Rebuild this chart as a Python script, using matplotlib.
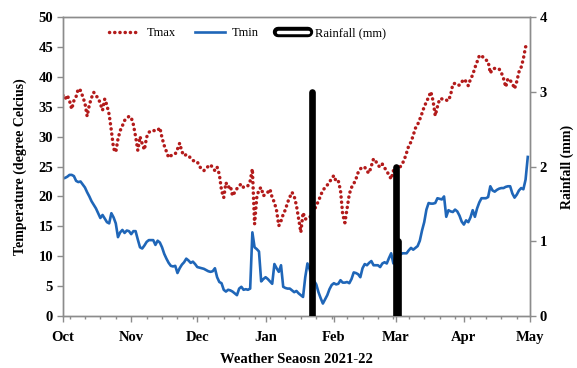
import numpy as np
import pandas as pd
import matplotlib
matplotlib.use("Agg")
import matplotlib.pyplot as plt
import matplotlib.dates as mdates
import matplotlib.patheffects as pe
from matplotlib.lines import Line2D

# daily values, 1 Oct 2021 - 30 Apr 2022
tmax = [36.9, 36.3, 36.9, 36.0, 34.6, 36.0, 36.7, 38.0, 37.7, 36.7,
        35.6, 33.4, 35.3, 36.5, 37.4, 36.8, 36.5, 35.5, 34.4, 36.3,
        35.2, 33.7, 31.0, 28.0, 27.4, 29.6, 31.0, 31.8, 32.7, 33.0,
        33.4, 33.2, 32.0, 30.0, 27.7, 30.0, 28.8, 27.8, 29.9, 30.7,
        31.0, 31.0, 31.0, 31.0, 31.5, 29.8, 28.5, 27.5, 26.5, 26.8,
        27.0, 27.1, 27.9, 28.9, 27.5, 26.8, 27.0, 26.8, 26.4, 26.0,
        25.9, 25.8, 25.0, 24.6, 24.3, 24.8, 25.0, 25.3, 24.8, 24.3,
        24.9, 23.7, 21.0, 19.8, 22.3, 21.5, 21.8, 20.1, 20.7, 21.3,
        21.8, 22.1, 21.5, 21.6, 21.8, 22.6, 24.6, 15.4, 19.8, 21.2,
        21.5, 20.1, 20.4, 20.7, 21.2, 19.8, 19.0, 17.6, 15.1, 15.9,
        17.0, 17.8, 19.0, 19.9, 20.7, 20.0, 18.5, 16.2, 14.0, 17.3,
        16.2, 16.4, 16.5, 17.0, 17.6, 18.5, 19.2, 20.2, 21.0, 21.5,
        21.9, 22.4, 23.0, 23.5, 22.5, 22.6, 21.0, 17.0, 15.6, 18.0,
        20.4, 21.5, 22.1, 22.9, 24.0, 24.6, 24.9, 24.9, 24.2, 23.9,
        25.1, 26.3, 25.9, 25.2, 24.9, 25.4, 24.8, 24.2, 23.6, 22.9,
        24.3, 24.0, 24.5, 24.9, 25.4, 26.2, 27.3, 28.5, 29.1, 30.2,
        31.4, 32.0, 32.9, 33.9, 35.0, 35.8, 36.6, 37.5, 36.0, 33.5,
        35.0, 36.3, 36.3, 36.1, 36.1, 36.0, 37.0, 38.8, 38.9, 38.6,
        38.6, 39.1, 39.6, 39.2, 38.5, 39.6, 40.3, 41.5, 42.5, 43.5,
        43.6, 43.1, 42.8, 42.6, 40.6, 41.3, 41.4, 41.3, 41.3, 40.7,
        39.7, 38.3, 39.7, 39.4, 38.9, 38.0, 39.2, 40.8, 41.6, 43.0,
        45.0, 45.2]

tmin = [23.0, 23.1, 23.3, 23.6, 23.6, 23.4, 22.6, 22.4, 22.5, 22.0,
        21.5, 20.7, 20.0, 19.2, 18.6, 18.0, 17.2, 16.4, 16.9, 16.3,
        15.7, 15.5, 17.2, 16.5, 15.5, 13.2, 14.0, 14.4, 13.9, 14.3,
        14.2, 13.7, 14.2, 14.2, 12.8, 11.5, 11.3, 11.8, 12.4, 12.7,
        12.7, 12.7, 11.9, 12.6, 12.3, 11.5, 10.4, 9.6, 8.9, 8.4,
        8.3, 8.4, 7.2, 8.0, 8.6, 9.0, 9.6, 9.3, 8.9, 9.1,
        8.7, 8.2, 8.1, 8.0, 7.9, 7.7, 7.5, 7.4, 7.5, 8.0,
        6.5, 5.7, 5.5, 4.4, 4.1, 4.4, 4.3, 4.1, 3.8, 3.5,
        4.6, 4.9, 4.4, 4.5, 4.4, 4.6, 14.0, 11.5, 11.2, 10.8,
        5.8, 6.2, 6.5, 6.2, 5.8, 5.4, 8.7, 8.0, 7.4, 8.5,
        4.9, 4.7, 4.6, 4.6, 4.3, 4.0, 4.2, 3.8, 3.5, 3.2,
        6.5, 8.8, 7.8, 6.4, 5.9, 5.3, 4.0, 3.0, 2.1, 2.8,
        3.5, 4.5, 5.2, 5.5, 5.3, 5.4, 6.0, 5.6, 5.6, 5.7,
        5.5, 6.2, 7.3, 7.2, 7.0, 6.5, 8.0, 8.7, 8.5, 8.9,
        9.2, 8.5, 8.5, 8.5, 8.2, 8.8, 9.0, 8.8, 9.7, 10.5,
        8.8, 9.3, 9.8, 10.2, 10.5, 10.5, 10.5, 11.0, 11.4, 11.1,
        11.4, 11.7, 12.6, 14.3, 15.7, 17.8, 18.9, 18.8, 18.8, 18.9,
        19.7, 19.6, 19.5, 20.0, 16.6, 17.7, 17.5, 17.4, 17.8, 17.5,
        16.8, 15.8, 15.3, 16.0, 15.7, 16.5, 17.7, 16.6, 18.0, 19.0,
        19.7, 19.7, 19.7, 19.9, 21.7, 21.0, 20.8, 21.1, 21.3, 21.4,
        21.4, 21.6, 21.7, 21.7, 20.5, 19.8, 20.3, 21.0, 21.4, 21.2,
        22.8, 26.6]

rain_dates = ["2022-01-22", "2022-03-01", "2022-03-02"]
rain_mm = [3.0, 2.0, 1.0]

dates = pd.date_range("2021-10-01", periods=len(tmax), freq="D")
rain_dates = pd.to_datetime(rain_dates)

plt.rcParams['font.family'] = ['Liberation Serif', 'DejaVu Serif']

red = '#B31B1B'
blue = '#1F66B8'
grey = '#8C8C8C'

fig = plt.figure(figsize=(5.77, 3.68), dpi=100)
ax = fig.add_axes([0.109, 0.141, 0.8095, 0.813])
ax2 = ax.twinx()

ax.plot(dates, tmax, color=red, lw=2.5, linestyle=(0, (0.05, 1.45)),
        dash_capstyle='round', label='Tmax')
ax.plot(dates, tmin, color=blue, lw=1.9, label='Tmin')

ax2.vlines(rain_dates, 0, rain_mm, colors='black', lw=4.8, capstyle='round',
           zorder=3)

ax.set_xlim(pd.Timestamp("2021-10-01"), pd.Timestamp("2022-05-01"))
ax.set_ylim(0, 50)
ax.set_yticks(np.arange(0, 51, 5))
ax2.set_ylim(0, 4)
ax2.set_yticks([0, 1, 2, 3, 4])

ax.xaxis.set_major_locator(mdates.MonthLocator())
ax.xaxis.set_major_formatter(mdates.DateFormatter('%b'))
ax.xaxis.set_minor_locator(mdates.WeekdayLocator(byweekday=mdates.MO))

for a in (ax, ax2):
    for s in a.spines.values():
        s.set_color(grey)
        s.set_linewidth(1.0)
    a.tick_params(which='both', direction='out', color=grey, width=1.0)
    a.tick_params(which='major', length=4, labelsize=10.5, pad=3)
    a.tick_params(which='minor', length=2.5)
    for lab in a.get_yticklabels():
        lab.set_fontweight('bold')
ax.tick_params(axis='x', which='major', pad=7)
for lab in ax.get_xticklabels():
    lab.set_fontweight('bold')

ax.set_ylabel('Temperature (degree Celcius)', fontsize=10, fontweight='bold',
              labelpad=8)
ax2.set_ylabel('Rainfall (mm)', fontsize=10, fontweight='bold', labelpad=10)
ax.set_xlabel('Weather Seaosn 2021-22', fontsize=10.5, fontweight='bold',
              labelpad=6)

rain_handle = Line2D([], [], color='white', lw=2.5, solid_capstyle='round',
                     path_effects=[pe.Stroke(linewidth=7.5, foreground='black'),
                                   pe.Normal()])
handles = [ax.lines[0], ax.lines[1], rain_handle]
labels = ['Tmax', 'Tmin', 'Rainfall (mm)']
ax2.legend(handles, labels, loc='center left', bbox_to_anchor=(0.075, 0.945),
           ncol=3, frameon=False, fontsize=9, handlelength=2.4,
           columnspacing=1.5, handletextpad=0.6)

fig.savefig('out.png', dpi=100)
